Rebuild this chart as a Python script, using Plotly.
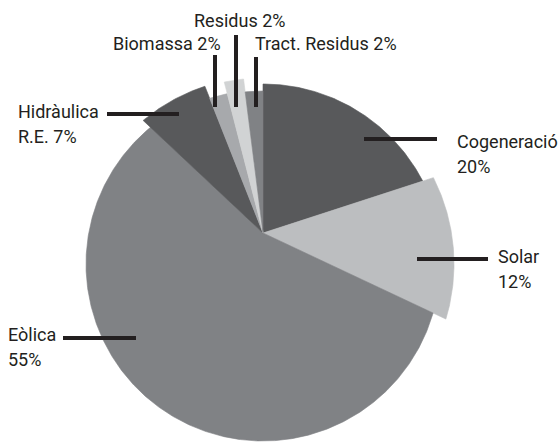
import math
import plotly.graph_objects as go

# ---- data ----
categories = ["Cogeneració", "Solar", "Eòlica", "Hidràulica R.E.", "Biomassa", "Residus", "Tract. Residus"]
shares = [20, 12, 55, 7, 2, 2, 2]          # percent
label_lines = [["Cogeneració", "20%"], ["Solar", "12%"], ["Eòlica", "55%"],
               ["Hidràulica", "R.E. 7%"], ["Biomassa 2%"], ["Residus 2%"], ["Tract. Residus 2%"]]

# ---- style ----
colors = ["#58595b", "#bcbec0", "#808285", "#58595b", "#a7a9ac", "#d1d3d4", "#808285"]
arc_radius = [180, 191, 177, 187, 174, 186, 173]   # outer-arc radius of each wedge (px)

W, H = 558, 442
CX, CY = 263, 264        # centre of the outer arcs (px, from top-left)
VX, VY = 263, 233        # point where the wedges meet

def arc_angle_for_ray(phi_deg, R):
    """Ray from the apex at angle phi (clockwise from north) -> angle on arc circle."""
    phi = math.radians(phi_deg)
    s, c = math.sin(phi), math.cos(phi)
    ox, oy = VX - CX, VY - CY          # apex relative to arc centre (screen coords)
    # solve |O + t*(s, -c)| = R
    b = 2 * (ox * s - oy * c)
    cc = ox * ox + oy * oy - R * R
    t = (-b + math.sqrt(b * b - 4 * cc)) / 2
    px_, py_ = ox + t * s, oy - t * c
    return math.degrees(math.atan2(px_, -py_)) % 360

fig = go.Figure()
total = sum(shares)
acc = 0.0
for name, s, col, R in zip(categories, shares, colors, arc_radius):
    a0 = 360.0 * acc / total
    a1 = 360.0 * (acc + s) / total
    acc += s
    p0 = arc_angle_for_ray(a0, R)
    p1 = arc_angle_for_ray(a1, R)
    if a0 == 0:
        p0 = p0 if p0 < 180 else p0 - 360
    if p1 <= p0:
        p1 += 360
    n = max(8, int((p1 - p0) * 2))
    xs, ys = [VX], [VY]
    for k in range(n + 1):
        ang = math.radians(p0 + (p1 - p0) * k / n)
        xs.append(CX + R * math.sin(ang))
        ys.append(CY - R * math.cos(ang))
    xs.append(VX)
    ys.append(VY)
    fig.add_trace(go.Scatter(x=xs, y=ys, mode="lines", fill="toself",
                             fillcolor=col, line=dict(color=col, width=0.6),
                             name=name, hoverinfo="name", showlegend=False))

fig.update_layout(
    width=W, height=H,
    margin=dict(l=0, r=0, t=0, b=0),
    paper_bgcolor="white", plot_bgcolor="white",
    xaxis=dict(range=[0, W], visible=False, fixedrange=True),
    yaxis=dict(range=[H, 0], visible=False, fixedrange=True),
)

FONT = dict(family="Liberation Sans Narrow, Roboto, sans-serif", size=18, color="#231f20")

# label positions: (x, y_middle_line1, anchor)
label_pos = [(455, 141, "left"), (496, 256, "left"), (6, 334, "left"),
             (16, 111, "left"), (111, 43, "left"), (239, 20, "center"), (253, 43, "left")]
LS = 25
for lines, (x, y, anc) in zip(label_lines, label_pos):
    for i, t in enumerate(lines):
        fig.add_annotation(x=x, y=y + i * LS, xref="x", yref="y",
                           text=t, showarrow=False, xanchor=anc, yanchor="middle",
                           font=FONT)

# leader lines (x0, y0, x1, y1) in pixels
leaders = [(364, 139, 437, 139), (417, 259, 488, 259), (63, 338, 136, 338),
           (107, 114, 179, 114), (215, 55, 215, 107), (236, 35, 236, 107), (256, 57, 256, 107)]
for x0, y0, x1, y1 in leaders:
    fig.add_shape(type="line", xref="x", yref="y", x0=x0, y0=y0, x1=x1, y1=y1,
                  line=dict(color="#231f20", width=4))

fig.write_html("out.html", config={"displayModeBar": False},
               post_script="document.body.style.margin='0';")
